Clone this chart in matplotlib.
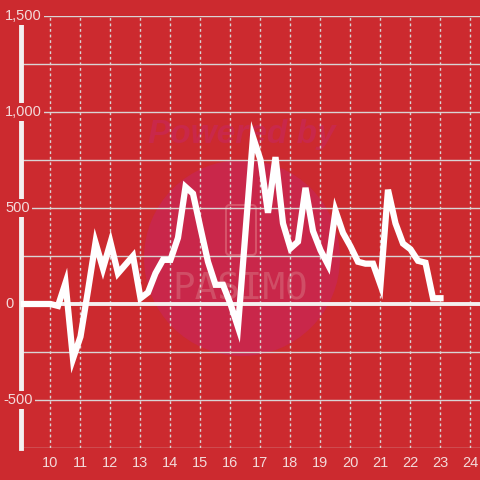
import matplotlib
matplotlib.use("Agg")
import matplotlib.pyplot as plt
from matplotlib.patches import Circle, FancyBboxPatch
from matplotlib.transforms import blended_transform_factory

# data: one value every 15 minutes from 9:00 to 23:00
hours = [9 + i * 0.25 for i in range(57)]
values = [
    0, 0, 0, 0,                # 9:00
    0, -10, 110, -285,         # 10:00
    -170, 70, 320, 185,        # 11:00
    320, 160, 205, 250,        # 12:00
    30, 60, 160, 230,          # 13:00
    230, 345, 610, 575,        # 14:00
    395, 220, 100, 100,        # 15:00
    0, -120, 375, 870,         # 16:00
    750, 475, 765, 420,        # 17:00
    290, 325, 605, 380,        # 18:00
    280, 205, 485, 370,        # 19:00
    300, 220, 210, 210,        # 20:00
    100, 595, 420, 315,        # 21:00
    285, 225, 215, 30,         # 22:00
    30,                        # 23:00
]
x_ticks = list(range(10, 25))
y_ticks = [-500, 0, 500, 1000, 1500]
y_labels = ["-500", "0", "500", "1,000", "1,500"]

BG = "#cc2a2f"
GRID = "#d9d4d4"
TXT = "#f3dada"

plt.rcParams['font.family'] = ['Liberation Sans', 'DejaVu Sans']

fig = plt.figure(figsize=(4.8, 4.8), dpi=100, facecolor=BG)

# watermark behind the chart
wm = fig.add_axes([0, 0, 1, 1], zorder=0)
wm.set_xlim(0, 480)
wm.set_ylim(480, 0)
wm.axis("off")
wm.add_patch(Circle((242, 258), 98, color="#c9274a", lw=0))
wm.text(242, 134, "Powered by", ha="center", va="center", fontsize=24,
        fontweight="bold", style="italic", color="#c9284a")
wm.add_patch(FancyBboxPatch((226, 205), 30, 50, boxstyle="round,pad=0,rounding_size=4",
                            fill=False, ec="#d6546a", lw=1.5))
wm.text(240, 290, "PASIMO", ha="center", va="center", fontsize=27,
        family="DejaVu Sans Mono", color="#d04e66")

ax = fig.add_axes([21 / 480, 32 / 480, 459 / 480, 432 / 480], zorder=1)
ax.patch.set_alpha(0)
ax.set_xlim(9.0167, 24.317)
ax.set_ylim(-750, 1500)

# grid
for y in range(-750, 1501, 250):
    if y == 0:
        continue
    ax.axhline(y, color=GRID, lw=1, zorder=1)
for h in x_ticks:
    ax.axvline(h, color=GRID, lw=1, ls=(0, (2, 2)), zorder=1)
ax.axhline(0, color="#f4f0f0", lw=2.8, zorder=2)

ax.plot(hours, values, color="white", lw=4.5, solid_joinstyle="miter", zorder=3)

for s in ["top", "right", "bottom"]:
    ax.spines[s].set_visible(False)
ax.spines["left"].set_color("#f4f0f0")
ax.spines["left"].set_linewidth(3.5)
ax.spines["left"].set_zorder(2)

ax.set_xticks(x_ticks)
ax.set_xticklabels([str(h) for h in x_ticks])
ax.tick_params(axis="x", length=0, pad=6, labelsize=10.5, labelcolor=TXT)
ax.set_yticks([])

trans = blended_transform_factory(fig.transFigure, ax.transData)
for y, lab in zip(y_ticks, y_labels):
    ax.text(5 / 480 if y >= 0 else 3 / 480, y, lab, transform=trans, ha="left", va="center",
            fontsize=10.5, color=TXT, zorder=4, clip_on=False,
            bbox=dict(facecolor=BG, edgecolor="none", pad=1.5))

fig.savefig("out.png", dpi=100, facecolor=BG)
